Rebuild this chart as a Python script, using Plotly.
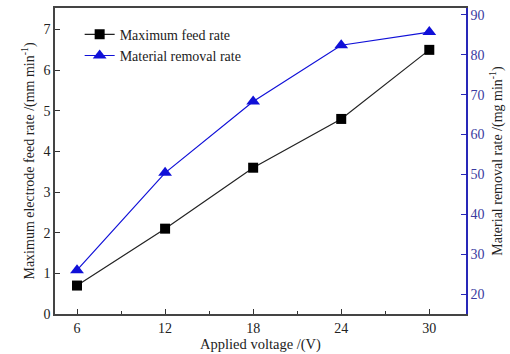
import plotly.graph_objects as go

voltage = [6, 12, 18, 24, 30]
feed_rate = [0.7, 2.1, 3.6, 4.8, 6.5]
removal_rate = [26.0, 50.4, 68.3, 82.4, 85.7]
x_ticks = [6, 12, 18, 24, 30]
left_ticks = [0, 1, 2, 3, 4, 5, 6, 7]
right_ticks = [20, 30, 40, 50, 60, 70, 80, 90]

FONT = "Liberation Serif, Times New Roman, serif"
BLUE = "#1010d8"
AXBLUE = "#2828b8"

fig = go.Figure()
fig.add_trace(go.Scatter(
    x=voltage, y=feed_rate, name="Maximum feed rate",
    mode="lines+markers",
    line=dict(color="#222222", width=1.2),
    marker=dict(symbol="square", size=10, color="black"),
))
fig.add_trace(go.Scatter(
    x=voltage, y=removal_rate, name="Material removal rate",
    mode="lines+markers", yaxis="y2",
    line=dict(color=BLUE, width=1.2),
    marker=dict(symbol="triangle-up", size=12, color=BLUE),
))

fig.update_layout(
    width=510, height=354,
    margin=dict(l=55, r=44, t=8, b=40, autoexpand=False),
    paper_bgcolor="white", plot_bgcolor="white",
    font=dict(family=FONT, size=14, color="#222222"),
    showlegend=True,
    legend=dict(x=0.06, y=0.965, xanchor="left", yanchor="top",
                bgcolor="rgba(0,0,0,0)", font=dict(size=14),
                itemwidth=30, tracegroupgap=0),
    xaxis=dict(
        range=[4.5, 32.5], tickvals=x_ticks,
        ticks="inside", ticklen=5, tickwidth=1, tickcolor="#333",
        minor=dict(dtick=3, tick0=3, ticks="inside", ticklen=3, tickcolor="#333"),
        showline=True, linecolor="#444", linewidth=1.5, mirror=True,
        showgrid=False, zeroline=False, automargin=False,
        title=dict(text="Applied voltage /(V)", standoff=1, font=dict(size=14.5)),
        tickfont=dict(size=14),
    ),
    yaxis=dict(
        range=[0, 7.53], tickvals=left_ticks,
        ticks="inside", ticklen=5, tickwidth=1, tickcolor="#333",
        showline=True, linecolor="#444", linewidth=1.5,
        showgrid=False, zeroline=False, automargin=False,
        title=dict(text="Maximum electrode feed rate /(mm min<sup>-1</sup>)", standoff=6,
                   font=dict(size=14)),
        tickfont=dict(size=14),
    ),
    yaxis2=dict(
        range=[15.0, 91.75], tickvals=right_ticks,
        overlaying="y", side="right",
        ticks="inside", ticklen=5, tickwidth=1, tickcolor=AXBLUE,
        showline=True, linecolor=AXBLUE, linewidth=1.5,
        showgrid=False, zeroline=False, automargin=False,
        tickfont=dict(size=14, color="#3a3aa0"),
        title=dict(text="Material removal rate /(mg min<sup>-1</sup>)", standoff=9,
                   font=dict(size=14, color="#222222")),
    ),
)

fig.write_html("out.html", config={"displayModeBar": False},
               post_script="document.body.style.margin='0';")
